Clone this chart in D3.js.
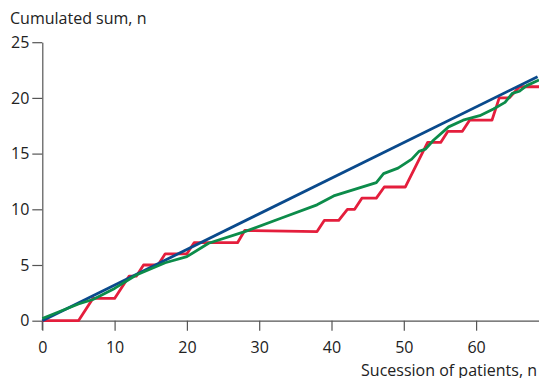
<!DOCTYPE html>
<html><head><meta charset="utf-8">
<script src="https://cdn.jsdelivr.net/npm/d3@7"></script>
<style>body{margin:0;background:#fff}svg{display:block}</style>
</head><body><svg id="c" width="539" height="378"></svg>
<script>
const xTicks = [0,10,20,30,40,50,60];
const yTicks = [0,5,10,15,20,25];
const yTitle = "Cumulated sum, n";
const xTitle = "Sucession of patients, n";
// red series (observed)
const redX = [0,5,7,10,12,13,14,16,17,20,21,27,28,38,39,41,42.2,43.2,44.2,46.2,47.3,50.2,53.3,55.1,56.1,58.1,59.1,62.2,63.2,64.6,66,68.7];
const redY = [0,0,2,2,4,4,5,5,6,6,7,7,8.1,8,9,9,10,10,11,11,12,12,16,16,17,17,18,18,20,20,21,21];
// green series
const greenX = [0,5,7,10,13,17,20,23,28,33,38,40.3,46.2,47.2,49.2,51.1,52.1,53,54.1,56.2,58.2,60.5,62.4,64,65,66,67,68.7];
const greenY = [0.2,1.5,1.9,2.9,4.1,5.2,5.75,6.95,8.0,9.2,10.4,11.2,12.4,13.2,13.7,14.5,15.2,15.4,16.2,17.4,18.0,18.4,19.0,19.6,20.4,20.6,21.1,21.6];
// blue series
const blueX = [0,68.5];
const blueY = [0,21.9];

const svg = d3.select("#c");
const x = d3.scaleLinear().domain([0,68.7]).range([42.3,539]);
const y = d3.scaleLinear().domain([0,25]).range([320.7,42.2]);
const axisColor = "#555";
const font = "'Open Sans', sans-serif";
const fs = "16px";

const xa = svg.append("g").attr("transform","translate(0,320.7)")
  .call(d3.axisBottom(x).tickValues(xTicks).tickSize(10).tickSizeOuter(0).tickPadding(11));
const ya = svg.append("g").attr("transform","translate(42.3,0)")
  .call(d3.axisLeft(y).tickValues(yTicks).tickSize(10).tickSizeOuter(0).tickPadding(3));
[xa,ya].forEach(g=>{
  g.select(".domain").attr("stroke",axisColor).attr("stroke-width",1.2);
  g.selectAll(".tick line").attr("stroke",axisColor).attr("stroke-width",1.2);
  g.selectAll(".tick text").attr("fill","#222").style("font-family",font).style("font-size",fs);
});
svg.append("line").attr("x1",42.3).attr("x2",42.3).attr("y1",320.7).attr("y2",330)
  .attr("stroke",axisColor).attr("stroke-width",1.2);

const line = d3.line().x(d=>x(d[0])).y(d=>y(d[1]));
function draw(xs,ys,color){
  svg.append("path").datum(xs.map((v,i)=>[v,ys[i]]))
    .attr("d",line).attr("fill","none").attr("stroke",color)
    .attr("stroke-width",2.8).attr("stroke-linejoin","round");
}
draw(redX,redY,"#e41e3c");
draw(blueX,blueY,"#0a4a8c");
draw(greenX,greenY,"#0c8c4a");

svg.append("text").attr("x",10).attr("y",24).text(yTitle)
  .style("font-family",font).style("font-size",fs).attr("fill","#222");
svg.append("text").attr("x",537).attr("y",376).attr("text-anchor","end").text(xTitle)
  .style("font-family",font).style("font-size",fs).attr("fill","#222");
</script></body></html>
